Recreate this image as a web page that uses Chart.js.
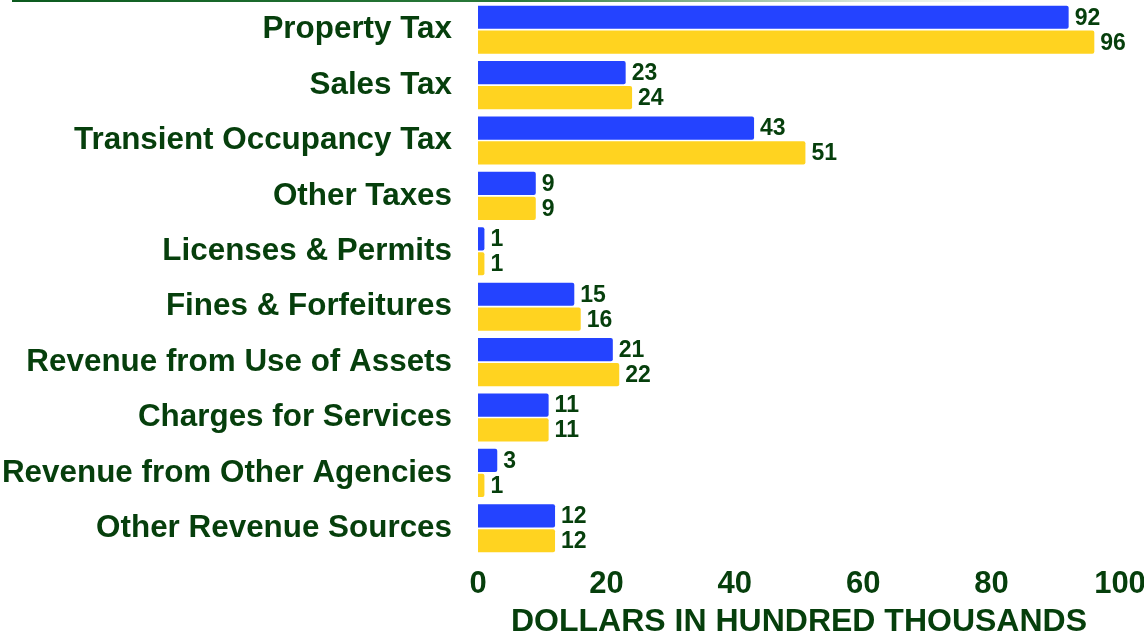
<!DOCTYPE html>
<html>
<head>
<meta charset="utf-8">
<script src="https://cdn.jsdelivr.net/npm/chart.js@4.4.1/dist/chart.umd.min.js"></script>
<style>
    html, body { margin: 0; padding: 0; background: #fff; }
    #wrap { position: relative; width: 1144px; height: 636px; }
    #topline {
        position: absolute; left: 12px; top: 0; width: 1000px; height: 2px;
        background: linear-gradient(to right, #0b5a1e 0%, #2a7a3a 50%, rgba(60,130,80,0.2) 85%, rgba(255,255,255,0) 100%);
    }
</style>
</head>
<body>
<div id="wrap">
    <div id="topline"></div>
    <canvas id="chart" width="1144" height="636"></canvas>
</div>
<script>
const categories = [
    'Property Tax',
    'Sales Tax',
    'Transient Occupancy Tax',
    'Other Taxes',
    'Licenses & Permits',
    'Fines & Forfeitures',
    'Revenue from Use of Assets',
    'Charges for Services',
    'Revenue from Other Agencies',
    'Other Revenue Sources'
];
const seriesA = [92, 23, 43, 9, 1, 15, 21, 11, 3, 12];
const seriesB = [96, 24, 51, 9, 1, 16, 22, 11, 1, 12];
const xTicks = [0, 20, 40, 60, 80, 100];
const xTitle = 'DOLLARS IN HUNDRED THOUSANDS';

const GREEN = '#063f0c';
const FONT = '"Liberation Sans", Arial, sans-serif';

// draws the value next to the end of each bar
const valueLabels = {
    id: 'valueLabels',
    afterDatasetsDraw(chart) {
        const ctx = chart.ctx;
        ctx.save();
        ctx.font = 'bold 23px ' + FONT;
        ctx.fillStyle = GREEN;
        ctx.textAlign = 'left';
        ctx.textBaseline = 'middle';
        chart.data.datasets.forEach((ds, i) => {
            chart.getDatasetMeta(i).data.forEach((bar, j) => {
                ctx.fillText(ds.data[j], bar.x + 6, bar.y + 1);
            });
        });
        ctx.restore();
    }
};

new Chart(document.getElementById('chart'), {
    type: 'bar',
    data: {
        labels: categories,
        datasets: [
            { data: seriesA, backgroundColor: '#2443ff', borderRadius: 2, borderSkipped: 'start' },
            { data: seriesB, backgroundColor: '#ffd320', borderRadius: 2, borderSkipped: 'start' }
        ]
    },
    options: {
        indexAxis: 'y',
        responsive: false,
        animation: false,
        devicePixelRatio: 1,
        layout: { padding: { top: 2, right: 0, left: 0, bottom: 0 } },
        datasets: { bar: { categoryPercentage: 0.9, barPercentage: 0.93 } },
        plugins: { legend: { display: false }, tooltip: { enabled: false } },
        scales: {
            x: {
                min: 0, max: 100,
                afterBuildTicks: s => { s.ticks = xTicks.map(v => ({ value: v })); },
                grid: { display: false, drawTicks: false },
                border: { display: false },
                ticks: {
                    color: GREEN,
                    padding: 10,
                    maxRotation: 0,
                    font: { family: FONT, weight: 'bold', size: 31 }
                },
                title: {
                    display: true,
                    text: xTitle,
                    color: GREEN,
                    padding: { top: 0, bottom: -5 },
                    font: { family: FONT, weight: 'bold', size: 32 }
                },
                afterFit: s => { s.height = 80; s.paddingRight = 24; }
            },
            y: {
                grid: { display: false, drawTicks: false },
                border: { display: false },
                ticks: {
                    color: GREEN,
                    padding: 26,
                    font: { family: FONT, weight: 'bold', size: 31.4 }
                },
                afterFit: s => { s.width = 478; s.paddingTop = 0; s.paddingBottom = 0; }
            }
        }
    },
    plugins: [valueLabels]
});
</script>
</body>
</html>
